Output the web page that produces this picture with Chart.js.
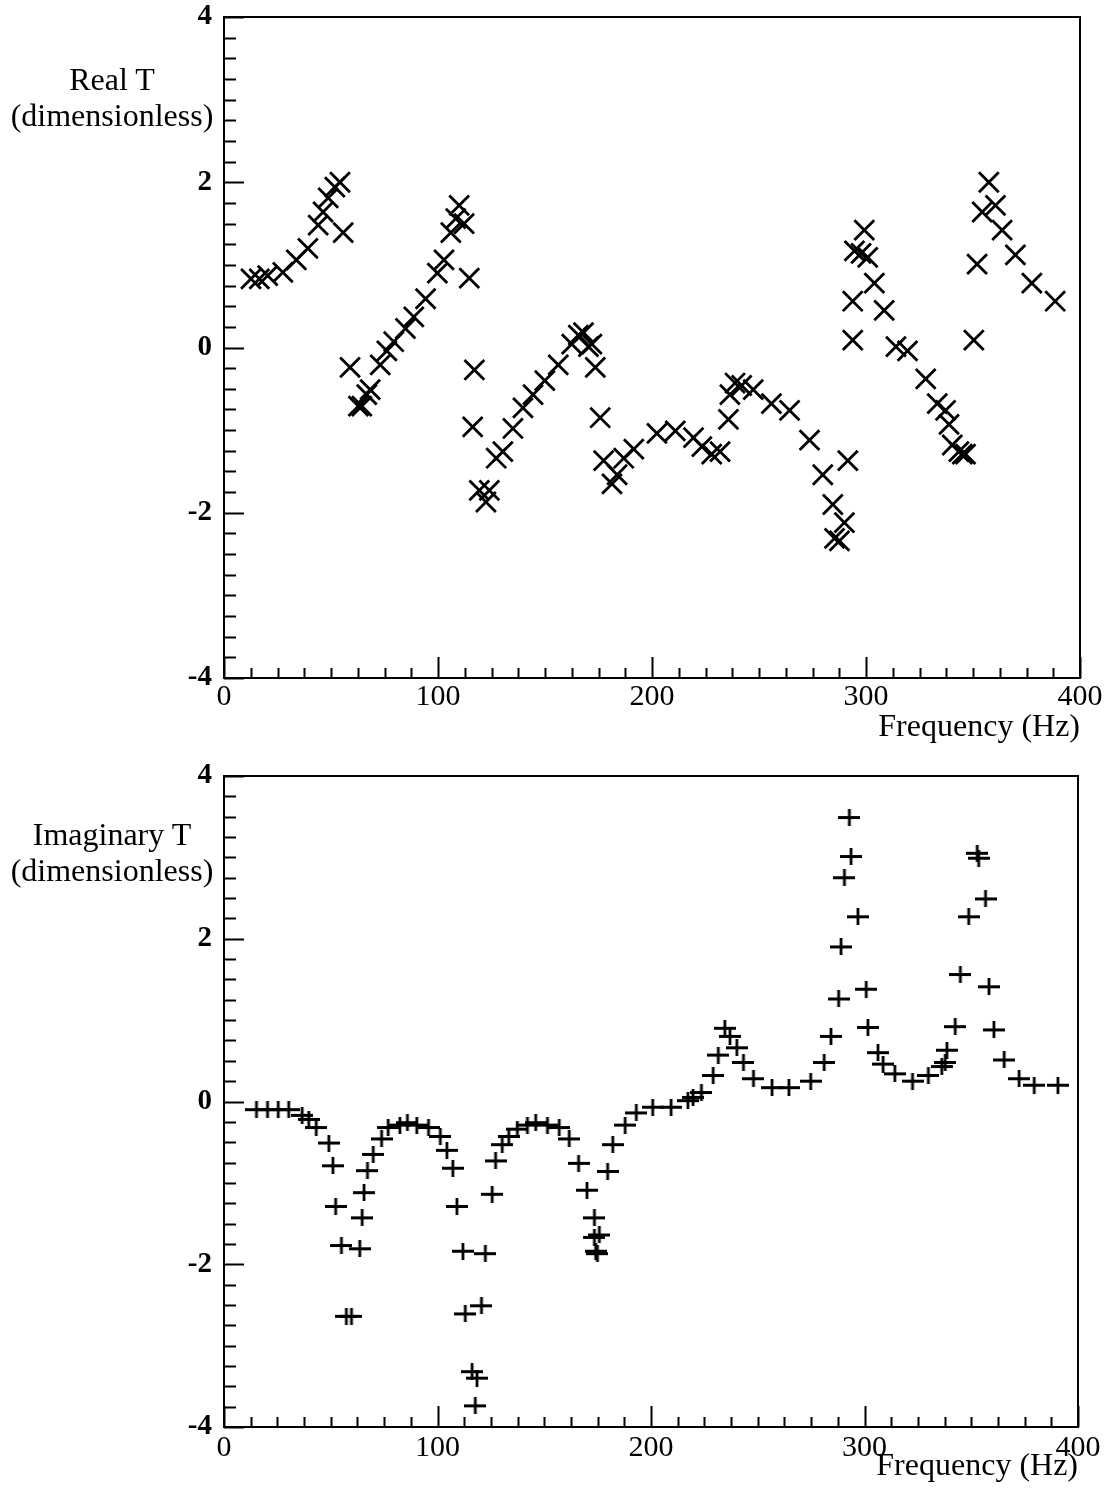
<!DOCTYPE html>
<html>
<head>
<meta charset="utf-8">
<script src="https://cdn.jsdelivr.net/npm/chart.js@4.4.1/dist/chart.umd.min.js"></script>
<style>
  body { margin: 0; background: #fff; }
  #wrap { position: relative; width: 1112px; height: 1502px; }
  canvas { position: absolute; left: 0; }
  .ylab {
    position: absolute; left: 0; width: 224px; text-align: center;
    font-family: "Liberation Serif", "Times New Roman", serif;
    font-size: 32px; line-height: 36px; color: #000;
  }
</style>
</head>
<body>
<div id="wrap">
  <canvas id="real-plot" style="top:0px"></canvas>
  <canvas id="imag-plot" style="top:750px"></canvas>
  <div class="ylab" style="top:61px">Real T<br>(dimensionless)</div>
  <div class="ylab" style="top:816px">Imaginary T<br>(dimensionless)</div>
</div>
<script>
// Real part of T
var realFreq = [12.6, 16.5, 20.4, 27.5, 33.8, 39.2, 44.0, 46.3, 48.7, 51.8, 54.2, 55.7,
  58.9, 62.8, 64.4, 66.7, 68.3, 73.0, 76.1, 79.3, 84.8, 88.7, 94.2, 99.7, 102.8, 106.0,
  108.3, 109.9, 112.2, 114.6, 116.2, 117.0, 119.3, 122.4, 124.0, 127.2, 130.3, 135.0,
  139.7, 144.4, 149.9, 156.2, 162.5, 165.6, 168.0, 170.3, 171.9, 173.5, 175.8, 177.4,
  181.3, 183.7, 186.8, 191.5, 202.3, 210.9, 219.4, 223.3, 227.9, 231.8, 235.7, 236.4,
  238.8, 241.9, 247.3, 255.8, 264.3, 273.6, 279.8, 284.5, 285.3, 287.6, 289.9, 291.5,
  293.8, 293.8, 294.6, 297.7, 299.2, 300.8, 303.9, 308.5, 314.0, 319.4, 327.9, 333.3,
  337.2, 338.8, 340.3, 343.4, 345.0, 346.5, 350.4, 351.9, 354.3, 357.4, 360.5, 363.6,
  369.8, 377.5, 388.4];
var realT = [0.83, 0.83, 0.87, 0.91, 1.06, 1.20, 1.48, 1.64, 1.81, 1.94, 2.00, 1.39,
  -0.24, -0.71, -0.71, -0.57, -0.51, -0.21, -0.04, 0.07, 0.23, 0.37, 0.59, 0.90, 1.06, 1.39,
  1.56, 1.72, 1.50, 0.84, -0.96, -0.27, -1.73, -1.87, -1.73, -1.34, -1.26, -0.98,
  -0.73, -0.57, -0.40, -0.21, 0.04, 0.15, 0.18, 0.01, 0.04, -0.24, -0.85, -1.37,
  -1.65, -1.54, -1.34, -1.23, -1.04, -1.01, -1.09, -1.20, -1.29, -1.26, -0.87, -0.57,
  -0.43, -0.46, -0.51, -0.68, -0.76, -1.12, -1.54, -1.90, -2.31, -2.34, -2.12, -1.37,
  0.09, 0.56, 1.17, 1.14, 1.42, 1.09, 0.78, 0.45, 0.01, -0.04, -0.38, -0.68,
  -0.76, -0.93, -1.18, -1.26, -1.29, -1.29, 0.09, 1.01, 1.64, 2.00, 1.72, 1.42,
  1.12, 0.78, 0.56];

// Imaginary part of T
var imagFreq = [15.2, 20.4, 25.4, 30.3, 36.6, 39.7, 43.2, 49.1, 51.0, 52.3, 55.0, 57.3,
  59.7, 63.6, 64.7, 65.6, 67.2, 69.9, 73.8, 76.9, 82.4, 85.9, 90.3, 95.8, 101.3, 104.4,
  107.2, 109.1, 111.9, 113.0, 116.2, 117.7, 118.5, 120.6, 122.4, 125.6, 127.2, 130.3,
  133.4, 137.4, 142.1, 146.0, 151.5, 157.0, 161.7, 166.1, 170.0, 173.5, 173.5, 174.1,
  174.9, 175.8, 179.7, 182.1, 187.9, 193.1, 200.8, 209.4, 217.3, 219.7, 223.6, 229.1,
  231.5, 234.6, 237.0, 240.2, 243.3, 248.0, 256.7, 264.6, 274.8, 281.1, 284.3, 287.9,
  289.0, 290.6, 292.9, 293.7, 296.9, 300.8, 301.6, 306.3, 308.7, 314.2, 322.5, 329.9,
  336.2, 337.8, 338.6, 342.5, 344.9, 348.8, 352.8, 353.5, 356.7, 358.3, 360.6, 365.4,
  372.4, 379.5, 390.6];
var imagT = [-0.10, -0.10, -0.10, -0.10, -0.17, -0.22, -0.32, -0.51, -0.79, -1.29, -1.77, -2.64,
  -2.64, -1.81, -1.43, -1.12, -0.85, -0.65, -0.46, -0.32, -0.29, -0.26, -0.29, -0.32, -0.43, -0.60,
  -0.82, -1.29, -1.84, -2.61, -3.32, -3.74, -3.40, -2.51, -1.87, -1.14, -0.73, -0.53,
  -0.43, -0.34, -0.29, -0.26, -0.29, -0.32, -0.46, -0.76, -1.09, -1.43, -1.67, -1.84,
  -1.87, -1.64, -0.86, -0.53, -0.29, -0.14, -0.07, -0.07, 0.01, 0.05, 0.11, 0.32,
  0.57, 0.90, 0.80, 0.66, 0.48, 0.28, 0.17, 0.17, 0.25, 0.48, 0.80, 1.26,
  1.90, 2.75, 3.49, 3.01, 2.27, 1.38, 0.91, 0.60, 0.46, 0.34, 0.25, 0.32,
  0.43, 0.48, 0.63, 0.92, 1.56, 2.27, 3.05, 2.99, 2.49, 1.41, 0.88, 0.51,
  0.28, 0.20, 0.20];

var xMajorTicks = [0, 100, 200, 300, 400];
var yMajorTicks = [-4, -2, 0, 2, 4];
var xMinorStep = 12.5;
var yMinorStep = 0.25;

var serif = "'Liberation Serif', 'Times New Roman', serif";

function toPoints(xs, ys) {
  return xs.map((x, i) => ({ x: x, y: ys[i] }));
}

// "+" marker, a bit wider than tall
function plusMark(w, h, lw) {
  const c = document.createElement('canvas');
  c.width = w;
  c.height = h;
  const g = c.getContext('2d');
  g.strokeStyle = '#000';
  g.lineWidth = lw;
  g.beginPath();
  g.moveTo(0, h / 2); g.lineTo(w, h / 2);
  g.moveTo(w / 2, 0); g.lineTo(w / 2, h);
  g.stroke();
  return c;
}

// box round the plot and inward ticks, like the original
const frameTicks = {
  id: 'frameTicks',
  afterDraw(chart) {
    const { ctx, chartArea: a, scales } = chart;
    const xs = scales.x, ys = scales.y;
    ctx.save();
    ctx.strokeStyle = '#000';
    ctx.lineWidth = 2;
    ctx.strokeRect(a.left, a.top, a.right - a.left, a.bottom - a.top);
    ctx.beginPath();
    for (let v = xs.min; v <= xs.max + 1e-9; v += xMinorStep) {
      const px = Math.round(xs.getPixelForValue(v)) + 0.5;
      const len = xMajorTicks.includes(v) ? 21 : 10;
      ctx.moveTo(px, a.bottom);
      ctx.lineTo(px, a.bottom - len);
    }
    for (let v = ys.min; v <= ys.max + 1e-9; v += yMinorStep) {
      const py = Math.round(ys.getPixelForValue(v)) + 0.5;
      const len = yMajorTicks.includes(v) ? 20 : 12;
      ctx.moveTo(a.left, py);
      ctx.lineTo(a.left + len, py);
    }
    ctx.stroke();
    ctx.restore();
  }
};

function makeChart(id, canvasH, pad, xHeight, xTickPad, titlePadBottom, dataset) {
  const el = document.getElementById(id);
  el.width = 1112;
  el.height = canvasH;
  el.style.width = '1112px';
  el.style.height = canvasH + 'px';
  return new Chart(el, {
    type: 'scatter',
    data: { datasets: [dataset] },
    plugins: [frameTicks],
    options: {
      responsive: false,
      animation: false,
      layout: { padding: pad },
      plugins: {
        legend: { display: false },
        tooltip: { enabled: false }
      },
      scales: {
        x: {
          type: 'linear',
          min: 0,
          max: 400,
          afterBuildTicks: (s) => { s.ticks = xMajorTicks.map(v => ({ value: v })); },
          afterFit: (s) => { s.height = xHeight; s.paddingLeft = 0; s.paddingRight = 0; },
          grid: { display: false, drawTicks: false },
          border: { display: false },
          ticks: {
            color: '#000',
            padding: xTickPad,
            maxRotation: 0,
            font: { family: serif, size: 30 }
          },
          title: {
            display: true,
            text: 'Frequency (Hz)',
            align: 'end',
            color: '#000',
            padding: { top: 0, bottom: titlePadBottom },
            font: { family: serif, size: 32 }
          }
        },
        y: {
          type: 'linear',
          min: -4,
          max: 4,
          afterBuildTicks: (s) => { s.ticks = yMajorTicks.map(v => ({ value: v })); },
          afterFit: (s) => { s.width = 224; s.paddingTop = 0; s.paddingBottom = 0; },
          grid: { display: false, drawTicks: false },
          border: { display: false },
          ticks: {
            color: '#000',
            padding: 12,
            font: { family: serif, size: 29, weight: 'bold' }
          }
        }
      }
    }
  });
}

makeChart('real-plot', 750, { top: 17, right: 32, bottom: 0, left: 0 }, 750 - 678, 1, 3, {
  label: 'Real T',
  data: toPoints(realFreq, realT),
  pointStyle: 'crossRot',
  pointRadius: 14,
  pointBorderWidth: 2.8,
  borderColor: '#000',
  backgroundColor: '#000',
  showLine: false
});

makeChart('imag-plot', 752, { top: 26, right: 34, bottom: 0, left: 0 }, 752 - 26 - 651, 3, 16, {
  label: 'Imaginary T',
  data: toPoints(imagFreq, imagT),
  pointStyle: plusMark(22, 17, 2.8),
  pointRadius: 10,
  borderColor: '#000',
  backgroundColor: '#000',
  showLine: false
});
</script>
</body>
</html>
